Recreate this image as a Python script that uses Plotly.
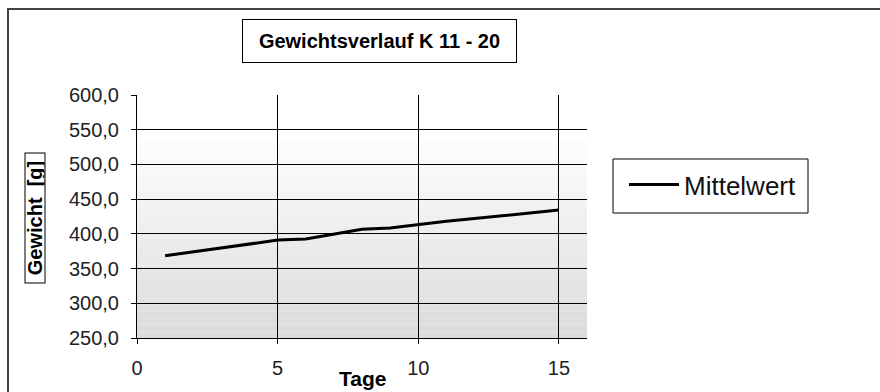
import plotly.graph_objects as go

# ---- data ----
tage = [1, 2, 3, 4, 5, 6, 7, 8, 9, 10, 11, 12, 13, 14, 15]
mittelwert = [368.5, 374.0, 380.0, 385.5, 391.0, 392.5, 400.0, 406.5, 408.5,
              413.5, 418.0, 422.0, 426.5, 430.5, 434.5]
y_ticks = [250, 300, 350, 400, 450, 500, 550, 600]
x_ticks = [0, 5, 10, 15]
title_text = "Gewichtsverlauf K 11 - 20"
x_title = "Tage"
y_title = "Gewicht\u00a0 [g]"
series_name = "Mittelwert"

FONT = "Liberation Sans, Arial, sans-serif"

# pixel helpers for placing decorations (plot area: x 137..587, y 95..338)
def px(x):
    return (x - 137) / 450

def py(y):
    return (338 - y) / 243

fig = go.Figure()
fig.add_trace(go.Scatter(x=tage, y=mittelwert, mode="lines", name=series_name,
                         line=dict(color="black", width=3), yaxis="y"))

# gradient background bands (style only)
shapes = []
n = 30
y_top_white = 535.0
for i in range(n):
    y0 = 250 + (y_top_white - 250) * i / n
    y1 = 250 + (y_top_white - 250) * (i + 1) / n
    t = (i + 0.5) / n
    L = int(round(219 + (255 - 219) * t))
    g = max(L - (2 if t > 0.1 else 0), 0)
    shapes.append(dict(type="rect", xref="x domain", yref="y", x0=0, x1=1,
                       y0=y0, y1=y1, fillcolor=f"rgb({L},{g},{L})",
                       line=dict(width=0), layer="below"))
# outer chart border (extends off-screen right/bottom)
shapes.append(dict(type="rect", xref="paper", yref="paper",
                   x0=px(8), x1=px(900), y0=py(420), y1=py(9),
                   line=dict(color="#444444", width=2), fillcolor="rgba(0,0,0,0)",
                   layer="above"))
# legend frame
shapes.append(dict(type="rect", xref="paper", yref="paper",
                   x0=px(613), x1=px(808), y0=py(213), y1=py(159),
                   line=dict(color="black", width=1), fillcolor="white",
                   layer="above"))

fig.update_layout(
    width=880, height=392,
    margin=dict(l=137, r=293, t=95, b=54),
    paper_bgcolor="white", plot_bgcolor="white",
    separators=", ",
    font=dict(family=FONT, color="#111111", size=20),
    shapes=shapes,
    showlegend=True,
    legend=dict(x=px(624), y=py(161), xanchor="left", yanchor="top",
                borderwidth=0, bgcolor="rgba(0,0,0,0)",
                font=dict(family=FONT, size=26, color="#111111"),
                itemwidth=50),
    xaxis=dict(range=[0, 16], tickvals=x_ticks, showgrid=True, gridcolor="black",
               gridwidth=1, showline=True, linecolor="black", linewidth=1,
               ticks="outside", ticklen=5, tickcolor="black", zeroline=False,
               ticklabelstandoff=7, automargin=False,
               tickfont=dict(family=FONT, size=20, color="#222222")),
    yaxis=dict(range=[250, 600], tickvals=y_ticks, tickformat=".1f", showgrid=False,
               showline=True, linecolor="black", linewidth=1, ticks="outside",
               ticklen=5, tickcolor="black", zeroline=False, ticklabelstandoff=8,
               automargin=False,
               tickfont=dict(family=FONT, size=20, color="#222222")),
    yaxis2=dict(range=[250, 600], overlaying="y", tickvals=y_ticks[1:-1],
                showgrid=True, gridcolor="black", gridwidth=1, showticklabels=False,
                ticks="", showline=False, zeroline=False, automargin=False),
    annotations=[
        dict(text="<b>" + title_text + "</b>", xref="paper", yref="paper",
             x=px(379.5), y=py(41), xanchor="center", yanchor="middle",
             showarrow=False, font=dict(family=FONT, size=20, color="black"),
             bordercolor="black", borderwidth=1, borderpad=1, width=271, height=40,
             bgcolor="white"),
        dict(text="<b>" + y_title + "</b>", xref="paper", yref="paper",
             x=px(34.5), y=py(218), xanchor="center", yanchor="middle",
             showarrow=False, textangle=-90, font=dict(family=FONT, size=20, color="black"),
             bordercolor="black", borderwidth=1, borderpad=0, width=129, height=19,
             bgcolor="white"),
        dict(text="<b>" + x_title + "</b>", xref="paper", yref="paper",
             x=0.5, y=py(378), xanchor="center", yanchor="middle",
             showarrow=False, font=dict(family=FONT, size=21, color="black")),
    ],
)
# dummy trace on y2 so the overlay grid axis is active
fig.add_trace(go.Scatter(x=[None], y=[None], yaxis="y2", showlegend=False,
                         hoverinfo="skip"))

fig.write_html("out.html")
